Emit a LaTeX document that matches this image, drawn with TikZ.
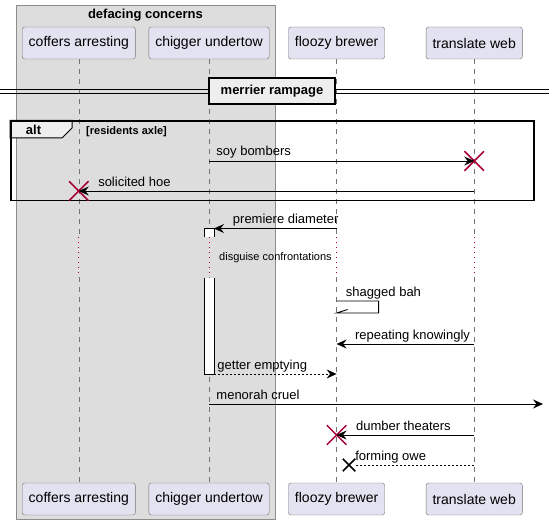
\documentclass[tikz,border=0pt]{standalone}
\usepackage{fontspec}
\setmainfont{Liberation Sans}
\usepackage{tikz}
\newcommand{\boxheight}{32pt}
\newcommand{\crosssize}{18pt}
\definecolor{partFill}{HTML}{E2E2F0}
\definecolor{groupFill}{HTML}{DDDDDD}
\definecolor{tabFill}{HTML}{EEEEEE}
\definecolor{killRed}{HTML}{A80036}
\usetikzlibrary{arrows.meta,calc,positioning,shapes.misc}
\tikzset{
  >={Stealth[length=10pt,width=9pt,inset=3.5pt]},
  font=\fontsize{13}{15}\selectfont,
  part/.style={draw=black!55,fill=partFill,shape=rectangle,rounded corners=2.5pt,minimum height=\boxheight,inner xsep=6.5pt,font=\fontsize{14}{16}\selectfont},
  life/.style={draw=black!55,line width=0.6pt,dash pattern=on 5pt off 5pt},
  delay/.style={draw=killRed,line width=0.9pt,dash pattern=on 1pt off 4pt},
  line/.style={draw,->,line width=0.9pt},
  reply/.style={line,dash pattern=on 2pt off 2pt},
  lbl/.style={anchor=base west,inner sep=0,yshift=5pt},
  kill/.style={draw=killRed,cross out,line width=1.5pt,minimum size=\crosssize,inner sep=0},
  lost/.style={draw,cross out,line width=1.6pt,minimum size=11pt,inner sep=0},
  bold/.style={font=\fontsize{13}{15}\selectfont\bfseries},
}
\begin{document}
\begin{tikzpicture}[x=1pt,y=-1pt]
  \useasboundingbox (0,0) rectangle (549,524);
  % box of the group
  \node (group) [draw=black!45,fill=groupFill,minimum width=258.5pt,minimum height=514pt,anchor=north west] at (16,5) {};
  \node (grouptitle) [bold,anchor=base] at ($(group.north)+(0,14)$) {defacing concerns};
  % participants
  \node (coffers) [part] at (78.8,43) {coffers arresting};
  \node (chigger) [part] at (209,43) {chigger undertow};
  \node (floozy) [part] at (336.6,43) {floozy brewer};
  \node (translate) [part] at (474.2,43) {translate web};
  \node (coffers-b) [part] at (78.8,499) {coffers arresting};
  \node (chigger-b) [part] at (209,499) {chigger undertow};
  \node (floozy-b) [part] at (336.6,499) {floozy brewer};
  \node (translate-b) [part] at (474.2,499) {translate web};
  % lifelines, broken by the delay
  \foreach \p in {coffers,chigger,floozy,translate} {
    \path [life] (\p.south) -- (\p.south |- 0,237);
    \path [delay] (\p.south |- 0,237) -- (\p.south |- 0,277);
    \path [life] (\p.south |- 0,277) -- (\p-b.north);
  }
  % divider
  \draw [line width=0.9pt] (0,89) -- (549,89) (0,93) -- (549,93);
  \node (rampage) [draw,line width=2pt,fill=tabFill,minimum width=126pt,minimum height=26pt,bold] at (272,91) {merrier rampage};
  % alt frame
  \path [draw,fill=tabFill,line width=1pt] (10,120.5) -- ++(62,0) -- ++(0,7.5) -- ++(-10,10) -- ++(-52,0) -- cycle;
  \node (alt) [draw,line width=1.5pt,minimum width=523pt,minimum height=79pt,anchor=north west] at (10,120.5) {};
  \node (alttag) [bold] at (33.5,130) {alt};
  \node (guard) [anchor=base west,inner sep=0,font=\fontsize{11}{13}\selectfont\bfseries] at (86,134.5) {[residents axle]};
  % messages
  \coordinate (soy) at (chigger |- 0,161);
  \node (soy-x) [kill] at (translate |- 0,161) {};
  \path [line] (soy) -- (soy-x.center) node[at start,lbl,xshift=7pt]{soy bombers};
  \coordinate (hoe) at (translate |- 0,191);
  \node (hoe-x) [kill] at (coffers |- 0,191) {};
  \path [line] (hoe) -- (hoe-x.center) node[at end,lbl,xshift=19pt]{solicited hoe};
  % activation
  \coordinate (act-in) at ($(chigger |- 0,228.5)+(5,0)$);
  \coordinate (act-out) at ($(chigger |- 0,374)+(5,0)$);
  \path [draw,fill=white,line width=0.9pt] ($(act-in)+(-10,8.5)$) |- (act-in) -- ++(0,8.5);
  \path [draw,fill=white,line width=0.9pt] ($(act-out)+(-10,-96.5)$) |- (act-out) -- ++(0,-96.5);
  \coordinate (premiere) at (floozy |- 0,228.5);
  \path [line] (premiere) -- (act-in) node[at end,lbl,xshift=18.5pt]{premiere diameter};
  \node (delaytext) [font=\fontsize{11}{13}\selectfont] at (275.5,258) {disguise confrontations};
  \coordinate (bah) at (floozy |- 0,301);
  \path [draw,line width=0.9pt] (bah) -- ++(42,0) -- ++(0,12) -- ++(-42,0) -- ++(11,-3.5);
  \node (bah-lbl) [lbl,xshift=9pt] at (bah) {shagged bah};
  \coordinate (repeat) at (translate |- 0,344);
  \path [line] (repeat) -- (floozy |- repeat) node[at end,lbl,xshift=18pt]{repeating knowingly};
  \coordinate (getter) at (floozy |- 0,374);
  \path [reply] (act-out) -- (getter) node[at start,lbl,xshift=3pt]{getter emptying};
  \coordinate (menorah) at (chigger |- 0,404);
  \coordinate (edge) at (543,404);
  \path [line] (menorah) -- (edge) node[at start,lbl,xshift=7pt]{menorah cruel};
  \coordinate (dumber) at (translate |- 0,435);
  \node (dumber-x) [kill] at (floozy |- dumber) {};
  \path [line] (dumber) -- (dumber-x.center) node[at end,lbl,xshift=19pt]{dumber theaters};
  \coordinate (owe) at (translate |- 0,465);
  \node (owe-x) [lost] at ($(floozy |- owe)+(12.5,0)$) {};
  \path [draw,line width=0.9pt,dash pattern=on 2pt off 2pt] (owe) -- (owe-x);
  \node (owe-lbl) [lbl,xshift=6pt] at (owe-x.center) {forming owe};
\end{tikzpicture}
\end{document}
